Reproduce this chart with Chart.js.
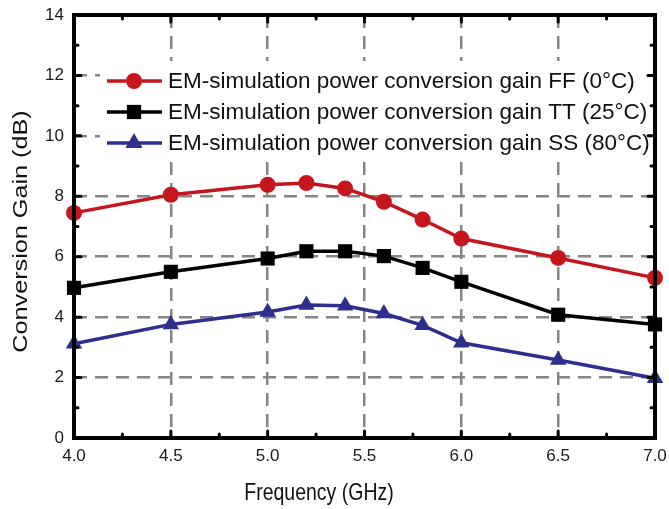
<!DOCTYPE html>
<html>
<head>
<meta charset="utf-8">
<script src="https://cdn.jsdelivr.net/npm/chart.js@4.4.1/dist/chart.umd.min.js"></script>
<style>
  html, body { margin: 0; padding: 0; background: #fff; }
  #wrap { width: 669px; height: 509px; position: relative; }
</style>
</head>
<body>
<div id="wrap"><canvas id="gain-chart"></canvas></div>
<script>
// Conversion gain vs frequency, three process corners
const frequency = [4.0, 4.5, 5.0, 5.2, 5.4, 5.6, 5.8, 6.0, 6.5, 7.0];
const gainFF = [7.45, 8.05, 8.38, 8.44, 8.26, 7.82, 7.23, 6.6, 5.96, 5.3];
const gainTT = [4.97, 5.5, 5.94, 6.18, 6.18, 6.02, 5.63, 5.17, 4.08, 3.76];
const gainSS = [3.12, 3.76, 4.17, 4.4, 4.38, 4.12, 3.73, 3.15, 2.58, 1.98];

const seriesLabels = [
    'EM-simulation power conversion gain FF (0\u00B0C)',
    'EM-simulation power conversion gain TT (25\u00B0C)',
    'EM-simulation power conversion gain SS (80\u00B0C)'
];

const xTicks = [4.0, 4.5, 5.0, 5.5, 6.0, 6.5, 7.0];
const yTicks = [0, 2, 4, 6, 8, 10, 12, 14];
const xTitle = 'Frequency (GHz)';
const yTitle = 'Conversion Gain (dB)';

const FONT = 'Arial, "Liberation Sans", sans-serif';

function toPoints(ys) {
    return frequency.map((f, i) => ({ x: f, y: ys[i] }));
}

function makeSet(label, ys, color, style, radius) {
    return {
        label: label,
        data: toPoints(ys),
        borderColor: color,
        backgroundColor: color,
        borderWidth: 3.5,
        pointStyle: style,
        pointRadius: radius,
        pointBorderWidth: 0,
        pointBackgroundColor: color,
        tension: 0,
        clip: false
    };
}

// legend box inside the plot, with white fill over the grid
const innerLegend = {
    id: 'innerLegend',
    beforeDatasetsDraw(chart) {
        const ctx = chart.ctx;
        const area = chart.chartArea;
        ctx.save();
        ctx.fillStyle = '#fff';
        ctx.fillRect(area.left + 26, area.top + 46, area.right - area.left - 28, 100);
        chart.data.datasets.forEach((ds, i) => {
            const y = area.top + 66 + i * 31;
            ctx.strokeStyle = ds.borderColor;
            ctx.lineWidth = 3.5;
            ctx.beginPath();
            ctx.moveTo(area.left + 33, y);
            ctx.lineTo(area.left + 88, y);
            ctx.stroke();
            Chart.helpers.drawPoint(ctx, {
                pointStyle: ds.pointStyle,
                radius: ds.pointRadius,
                borderWidth: 0,
                rotation: 0
            }, area.left + 60, y);
            ctx.fillStyle = ds.borderColor;
            ctx.fill();
            ctx.fillStyle = '#111';
            ctx.font = '22.5px ' + FONT;
            ctx.textBaseline = 'middle';
            ctx.textAlign = 'left';
            ctx.fillText(ds.label, area.left + 94, y + 1);
        });
        ctx.restore();
    }
};

// thick frame with inward ticks on all four sides, plus axis titles
const frameTicks = {
    id: 'frameTicks',
    afterDraw(chart) {
        const ctx = chart.ctx;
        const area = chart.chartArea;
        const xs = chart.scales.x;
        const ys = chart.scales.y;
        ctx.save();
        ctx.strokeStyle = '#000';
        ctx.lineWidth = 3;
        ctx.lineCap = 'round';
        ctx.beginPath();
        for (let v = 4.25; v < 7; v += 0.25) {
            const px = xs.getPixelForValue(v);
            const len = (Math.round(v * 4) % 2 === 0) ? 7 : 4;
            ctx.moveTo(px, area.bottom); ctx.lineTo(px, area.bottom - len);
            ctx.moveTo(px, area.top); ctx.lineTo(px, area.top + len);
        }
        for (let v = 1; v < 14; v += 1) {
            const py = ys.getPixelForValue(v);
            const len = (v % 2 === 0) ? 7 : 4;
            ctx.moveTo(area.left, py); ctx.lineTo(area.left + len, py);
            ctx.moveTo(area.right, py); ctx.lineTo(area.right - len, py);
        }
        ctx.stroke();
        ctx.lineCap = 'butt';
        ctx.lineWidth = 4;
        ctx.strokeRect(area.left, area.top, area.right - area.left, area.bottom - area.top);

        // axis titles (the source figure is stretched vertically a bit)
        ctx.fillStyle = '#111';
        ctx.textAlign = 'center';
        ctx.textBaseline = 'alphabetic';
        ctx.save();
        ctx.translate(319, area.bottom + 62);
        ctx.scale(1, 1.2);
        ctx.font = '19.5px ' + FONT;
        ctx.fillText(xTitle, 0, 0);
        ctx.restore();
        ctx.save();
        ctx.translate(area.left - 47, (area.top + area.bottom) / 2 + 5);
        ctx.rotate(-Math.PI / 2);
        ctx.scale(1.2, 1);
        ctx.font = '21px ' + FONT;
        ctx.fillText(yTitle, 0, 0);
        ctx.restore();
        ctx.restore();
    }
};

function gridColor(c) {
    const v = c.tick.value;
    if (c.scale.axis === 'x') return (v <= 4.0 || v >= 7.0) ? 'rgba(0,0,0,0)' : '#858585';
    return (v <= 0 || v >= 14) ? 'rgba(0,0,0,0)' : '#858585';
}

const ctx = document.getElementById('gain-chart').getContext('2d');
new Chart(ctx, {
    type: 'line',
    data: {
        datasets: [
            makeSet(seriesLabels[0], gainFF, '#c4161c', 'circle', 8),
            makeSet(seriesLabels[1], gainTT, '#000000', 'rect', 10),
            makeSet(seriesLabels[2], gainSS, '#2e2e8e', 'triangle', 9.5)
        ]
    },
    options: {
        responsive: true,
        maintainAspectRatio: false,
        animation: false,
        layout: { padding: { left: 0, right: 14, top: 15, bottom: 0 } },
        plugins: {
            legend: { display: false },
            tooltip: { enabled: false }
        },
        scales: {
            x: {
                type: 'linear',
                min: 4.0,
                max: 7.0,
                afterBuildTicks: (scale) => { scale.ticks = xTicks.map(v => ({ value: v })); },
                afterFit: (scale) => {
                    scale.height = 71;
                    scale.paddingLeft = 0;
                    scale.paddingRight = 0;
                },
                ticks: {
                    color: '#1a1a1a',
                    font: { family: FONT, size: 17 },
                    padding: 8,
                    maxRotation: 0,
                    callback: (v) => Number(v).toFixed(1)
                },
                grid: { color: gridColor, lineWidth: 2.5, drawTicks: false },
                border: { display: false, dash: [13, 8] }
            },
            y: {
                min: 0,
                max: 14,
                afterBuildTicks: (scale) => { scale.ticks = yTicks.map(v => ({ value: v })); },
                afterFit: (scale) => {
                    scale.width = 74;
                    scale.paddingTop = 0;
                    scale.paddingBottom = 0;
                },
                ticks: {
                    color: '#1a1a1a',
                    font: { family: FONT, size: 17 },
                    padding: 10
                },
                grid: { color: gridColor, lineWidth: 2.5, drawTicks: false },
                border: { display: false, dash: [13, 8] }
            }
        }
    },
    plugins: [innerLegend, frameTicks]
});
</script>
</body>
</html>
